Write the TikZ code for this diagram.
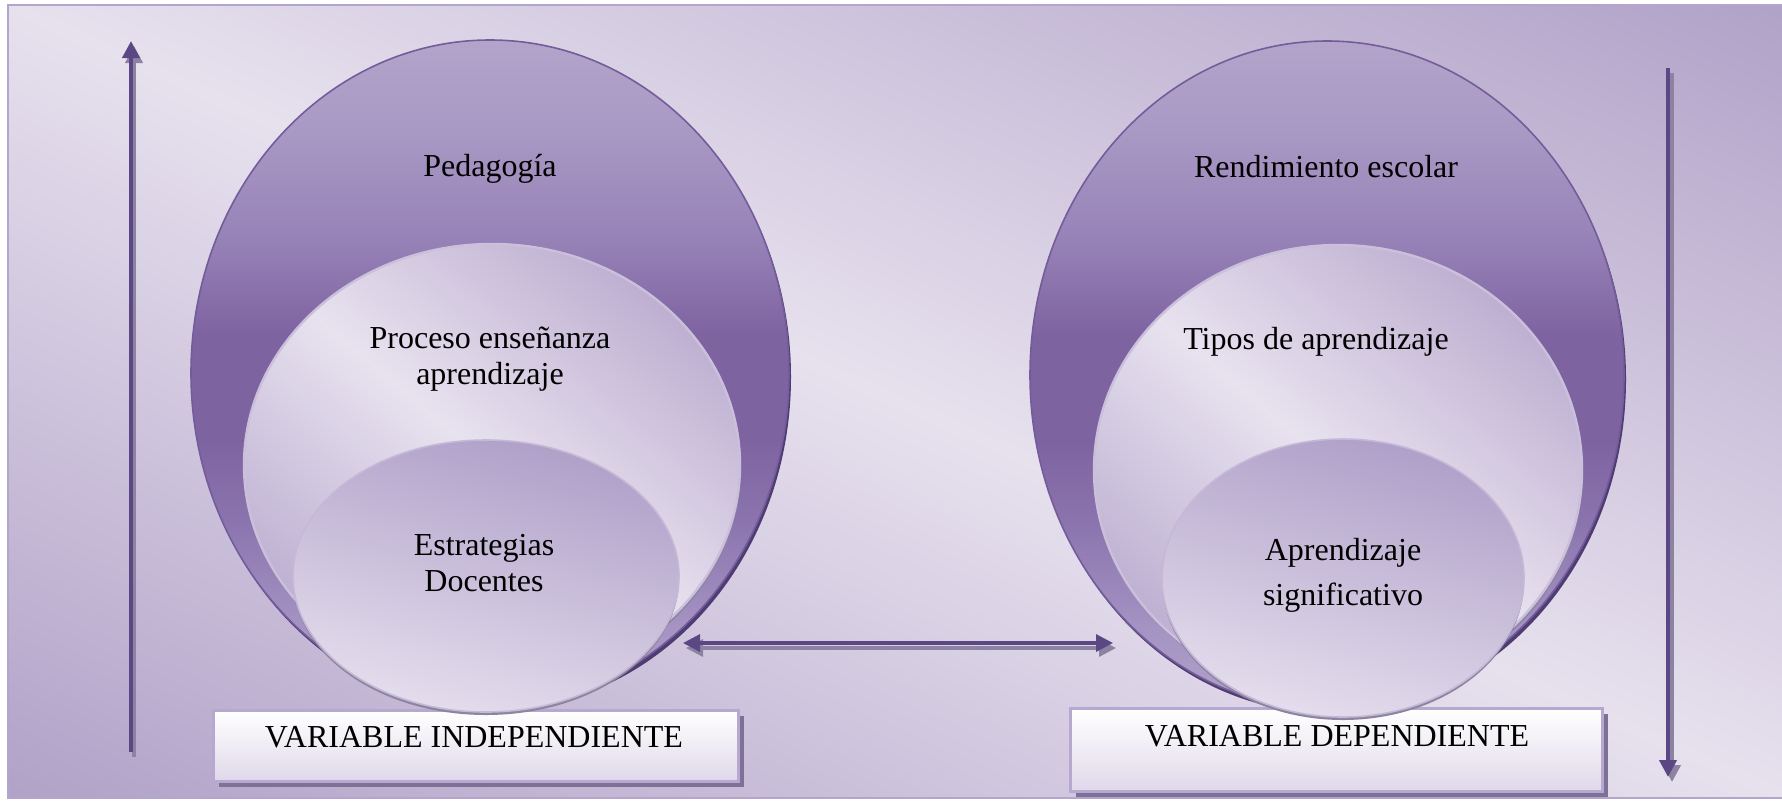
\documentclass[tikz,border=0pt]{standalone}
\usepackage{fontspec}
\setmainfont{Liberation Serif}
\usetikzlibrary{arrows.meta,shapes.geometric}
\definecolor{bgdark}{HTML}{B1A2C8}
\definecolor{bglight}{HTML}{E7E1EE}
\definecolor{framecol}{HTML}{B3A5CC}
\definecolor{rA}{HTML}{B1A2C9}
\definecolor{rB}{HTML}{A593C3}
\definecolor{rC}{HTML}{8B74AE}
\definecolor{rD}{HTML}{7E63A1}
\definecolor{rE}{HTML}{9782B7}
\definecolor{rF}{HTML}{A898C4}
\definecolor{rG}{HTML}{B3A4CA}
\definecolor{ringedge}{HTML}{745C9B}
\definecolor{ringshadow}{HTML}{4E3C73}
\definecolor{middark}{HTML}{BEAFD1}
\definecolor{midlight}{HTML}{E8E2EF}
\definecolor{midbot}{HTML}{BDB0D2}
\definecolor{midedge}{HTML}{CBC0DC}
\definecolor{innerdark}{HTML}{AE9FC8}
\definecolor{innerlight}{HTML}{E5DEED}
\definecolor{inneredge}{HTML}{C4B9D7}
\definecolor{greyshadow}{HTML}{8D85A0}
\definecolor{arrowcol}{HTML}{5C4785}
\definecolor{arrowshadow}{HTML}{8C82A2}
\definecolor{boxedge}{HTML}{B6A8CF}
\definecolor{boxbot}{HTML}{E0D8EA}
\definecolor{boxshadow}{HTML}{7E7198}
\pgfdeclareverticalshading{bgshade}{100bp}{color(0bp)=(bgdark); color(32bp)=(bgdark); color(50bp)=(bglight); color(68bp)=(bgdark); color(100bp)=(bgdark)}
\pgfdeclareverticalshading{ringshade}{100bp}{color(0bp)=(rA); color(25bp)=(rA); color(31bp)=(rB); color(39bp)=(rC); color(45bp)=(rD); color(53bp)=(rD); color(60bp)=(rE); color(68bp)=(rF); color(75bp)=(rG); color(100bp)=(rG)}
\tikzset{
  txt/.style={font=\fontsize{16}{18}\selectfont, anchor=base, inner sep=0pt, text=black},
  ring/.style={ellipse, inner sep=0pt, outer sep=0pt, shade, shading=ringshade, draw=ringedge, line width=0.8pt},
  midell/.style={ellipse, inner sep=0pt, outer sep=0pt, top color=middark, bottom color=midbot, middle color=midlight, shading angle=-40, draw=midedge, line width=1.2pt},
  innerell/.style={ellipse, inner sep=0pt, outer sep=0pt, top color=innerdark, bottom color=innerlight, shading angle=-15, draw=inneredge, line width=0.8pt},
  varbox/.style={rectangle, inner sep=0pt, outer sep=0pt, top color=white, bottom color=boxbot, draw=boxedge, line width=1.5pt},
  arr/.style={draw=arrowcol, line width=2pt, -{Triangle[length=8.5pt,width=8.5pt]}},
  arrsh/.style={draw=arrowshadow, line width=2pt, -{Triangle[length=8.5pt,width=8.5pt]}},
  darr/.style={draw=arrowcol, line width=1.6pt, {Triangle[length=8.5pt,width=8.5pt]}-{Triangle[length=8.5pt,width=8.5pt]}},
  darrsh/.style={draw=arrowshadow, line width=1.6pt, {Triangle[length=8.5pt,width=8.5pt]}-{Triangle[length=8.5pt,width=8.5pt]}}
}
\begin{document}
\begin{tikzpicture}[x=0.5pt,y=-0.5pt]
\useasboundingbox (0,0) rectangle (1782,800);
\fill[white] (0,0) rectangle (1782,800);
% background frame
\begin{scope}
  \clip (8,5) rectangle (1790,798);
  \shade[shading=bgshade, shading angle=-24] (-105,-600) rectangle (1895,1400);
\end{scope}
\draw[framecol, line width=1pt] (8,5) rectangle (1790,798);
% vertical arrows
\coordinate (upS) at (131,752);
\coordinate (upE) at (131,41);
\coordinate (dnS) at (1668,68);
\coordinate (dnE) at (1668,777);
\draw[arrsh] ([shift={(3,5)}]upS) -- ([shift={(3,5)}]upE);
\draw[arr] (upS) -- (upE);
\draw[arrsh] ([shift={(4,5)}]dnS) -- ([shift={(4,5)}]dnE);
\draw[arr] (dnS) -- (dnE);
% horizontal double arrow
\coordinate (aL) at (683,643);
\coordinate (aR) at (1113,643);
\draw[darrsh] ([shift={(3,5)}]aL) -- ([shift={(3,5)}]aR);
\draw[darr] (aL) -- (aR);
% boxes
\fill[boxshadow] (219,716) rectangle (744,787);
\node[varbox, minimum width=262.5pt, minimum height=35.5pt] (boxI) at (476,746) {};
\fill[boxshadow] (1076,714) rectangle (1608,797);
\node[varbox, minimum width=266pt, minimum height=41.5pt] (boxD) at (1336.5,750) {};
% left group
\fill[ringshadow] (492,377) ellipse [x radius=149.5pt, y radius=166.5pt];
\node[ring, minimum width=299pt, minimum height=333pt] (outL) at (490,373) {};
\fill[greyshadow] (493,468) ellipse [x radius=124pt, y radius=110.5pt];
\node[midell, minimum width=248pt, minimum height=221pt] (midL) at (492,465) {};
\fill[greyshadow] (486,579) ellipse [x radius=96.5pt, y radius=68pt];
\node[innerell, minimum width=193pt, minimum height=136pt] (inL) at (486,576) {};
% right group
\fill[ringshadow] (1329,379) ellipse [x radius=148.5pt, y radius=167pt];
\node[ring, minimum width=297pt, minimum height=334pt] (outR) at (1327,375) {};
\fill[greyshadow] (1339,473) ellipse [x radius=122pt, y radius=112.5pt];
\node[midell, minimum width=244pt, minimum height=225pt] (midR) at (1338,470) {};
\fill[greyshadow] (1343,581) ellipse [x radius=90.5pt, y radius=69.5pt];
\node[innerell, minimum width=181pt, minimum height=139pt] (inR) at (1343,578) {};
% texts
\node[txt] (tPed) at (490,176) {Pedagogía};
\node[txt] (tPro1) at (490,348) {Proceso enseñanza};
\node[txt] (tPro2) at (490,384) {aprendizaje};
\node[txt] (tEst1) at (484,555) {Estrategias};
\node[txt] (tEst2) at (484,591) {Docentes};
\node[txt] (tRen) at (1326,177) {Rendimiento escolar};
\node[txt] (tTip) at (1316,349) {Tipos de aprendizaje};
\node[txt] (tApr1) at (1343,560) {Aprendizaje};
\node[txt] (tApr2) at (1343,605) {significativo};
\node[txt] (tVI) at (474,747) {VARIABLE INDEPENDIENTE};
\node[txt] (tVD) at (1337,746) {VARIABLE DEPENDIENTE};
\end{tikzpicture}
\end{document}
